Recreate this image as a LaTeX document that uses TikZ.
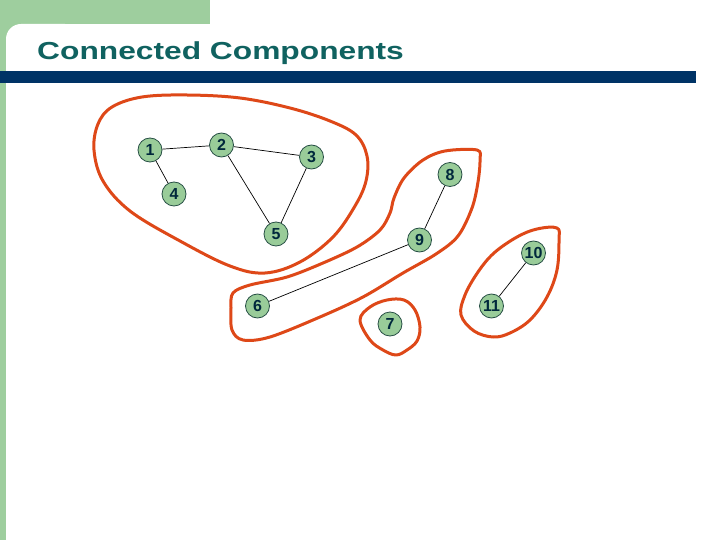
\documentclass[tikz,border=0pt]{standalone}
\usepackage{fontspec}
\setmainfont{Liberation Sans}
\usetikzlibrary{calc}
\definecolor{slidegreen}{RGB}{158,206,158}
\definecolor{barblue}{RGB}{0,51,102}
\definecolor{titleteal}{RGB}{16,98,96}
\definecolor{nodegreen}{RGB}{153,204,153}
\definecolor{nodeedge}{RGB}{40,80,70}
\definecolor{digitnavy}{RGB}{0,40,60}
\definecolor{loopred}{RGB}{222,72,24}
\tikzset{
  vtx/.style={circle, minimum size=24pt, inner sep=0pt, fill=nodegreen, draw=nodeedge, line width=0.8pt,
    text=digitnavy, font=\fontsize{16}{16}\selectfont\bfseries},
  edge/.style={draw=black, line width=0.7pt},
  loop/.style={draw=loopred, line width=3pt, line join=round},
}
\begin{document}
\begin{tikzpicture}[x=1pt,y=-1pt]
\useasboundingbox (0,0) rectangle (720,540);
\fill[white] (0,0) rectangle (720,540);
% green frame
\fill[slidegreen] (0,0) rectangle (210,24);
\fill[slidegreen] (0,0) rectangle (6,540);
\fill[slidegreen] (0,0) rectangle (40,60);
\fill[white, rounded corners=15pt] (6,24) rectangle (80,120);
\fill[white] (6,60) rectangle (80,120);
% title bar
\fill[barblue] (0,71) rectangle (696,83);
\node[anchor=base west, inner sep=0pt, text=titleteal] (title) at (37,59.5)
  {\scalebox{1.29}[1]{\fontsize{24.6}{24.6}\selectfont\bfseries Connected Components}};
% vertices
\node[vtx] (n1) at (150,150) {1};
\node[vtx] (n2) at (221.5,145) {2};
\node[vtx] (n3) at (311.5,157) {3};
\node[vtx] (n4) at (174,194) {4};
\node[vtx] (n5) at (276,234) {5};
\node[vtx] (n6) at (257.5,306) {6};
\node[vtx] (n7) at (390,324) {7};
\node[vtx] (n8) at (450,174.5) {8};
\node[vtx] (n9) at (419.5,240) {9};
\node[vtx] (n10) at (533.5,253) {10};
\node[vtx] (n11) at (491.5,306) {11};
% edges
\draw[edge] (n1) -- (n2);
\draw[edge] (n1) -- (n4);
\draw[edge] (n2) -- (n3);
\draw[edge] (n2) -- (n5);
\draw[edge] (n3) -- (n5);
\draw[edge] (n8) -- (n9);
\draw[edge] (n9) -- (n6);
\draw[edge] (n10) -- (n11);
% component loops
\draw[loop] plot[smooth cycle, tension=0.6] coordinates {
  (94,150) (98,124) (112,107) (142,97) (187,95) (240,98) (290,108) (330,121)
  (356,135) (367,156) (366,181) (355,206) (333,237) (300,262) (265,273)
  (230,266) (180,241) (130,211) (103,181)};
\draw[loop] plot[smooth cycle, tension=0.55] coordinates {
  (233,293) (250,285) (287,277) (323,263) (357,247) (380,230) (390,213)
  (394,198) (404,178) (423,160) (445,151) (477,150) (480,160) (478,182)
  (472,208) (458,236) (436,254) (403,273) (363,297) (320,317) (270,337)
  (243,340) (232,330) (231,308)};
\draw[loop] plot[smooth cycle, tension=0.6] coordinates {
  (360,320) (370,307) (387,300) (404,300) (415,310) (420,327) (417,341)
  (407,350) (396,355) (383,350) (370,340)};
\draw[loop] plot[smooth cycle, tension=0.6] coordinates {
  (461,315) (465,295) (478,272) (494,253) (517,237) (537,229) (557,228)
  (559,240) (557,270) (547,297) (530,320) (510,333) (493,337) (474,331)};
\end{tikzpicture}
\end{document}
